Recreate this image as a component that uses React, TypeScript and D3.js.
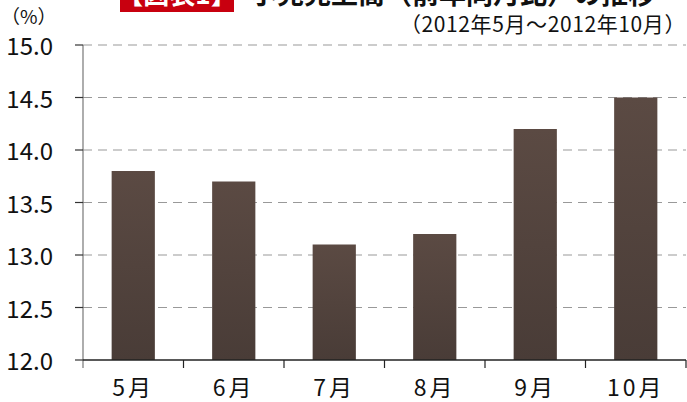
import React from "react";
import * as d3 from "d3";

const categories = ["5月", "6月", "7月", "8月", "9月", "10月"];
const values = [13.8, 13.7, 13.1, 13.2, 14.2, 14.5];
const yTicks = [12.0, 12.5, 13.0, 13.5, 14.0, 14.5, 15.0];

const W = 687;
const H = 402;
const FONT = '"Noto Sans CJK JP", "Noto Sans CJK SC", sans-serif';

export default function App() {
  const x = d3.scaleBand<string>().domain(categories).range([83, 686]).paddingInner(0.57).paddingOuter(0.285);
  const y = d3.scaleLinear().domain([12, 15]).range([360, 45]);
  const bands = d3.scaleBand<string>().domain(categories).range([83, 686]);
  const txt = { fontFamily: FONT } as React.CSSProperties;

  return (
    <svg width={W} height={H} style={{ position: "absolute", left: 0, top: 0, background: "#fff" }}>
      <defs>
        <linearGradient id="barGrad" x1="0" y1="0" x2="0" y2="1">
          <stop offset="0%" stopColor="#5b4a43" />
          <stop offset="100%" stopColor="#493c37" />
        </linearGradient>
      </defs>
      {/* title */}
      <rect x={120} y={-20} width={114} height={32} fill="#c8000f" />
      <text x={177} y={4} textAnchor="middle" style={txt} fontWeight="bold" fontSize={26} fill="#fff">【図表1】</text>
      <text x={250} y={4} style={txt} fontWeight="bold" fontSize={27} fill="#111">小売売上高（前年同月比）の推移</text>
      <text x={1} y={24} style={txt} fontSize={19} fill="#111">（%）</text>
      <text x={686} y={32} textAnchor="end" style={txt} fontSize={21} letterSpacing={0.6} fill="#111">（2012年5月～2012年10月）</text>
      {/* grid */}
      {yTicks.filter(t => t > 12).map(t => (
        <line key={t} x1={83} x2={686} y1={y(t)} y2={y(t)} stroke="#999" strokeWidth={1.2} strokeDasharray="9,6" />
      ))}
      {/* bars */}
      {categories.map((c, i) => (
        <rect key={c} x={x(c)} y={y(values[i])} width={x.bandwidth()} height={y(12) - y(values[i])} fill="url(#barGrad)" />
      ))}
      {/* y axis */}
      <line x1={83} x2={83} y1={y(15)} y2={y(12) + 8} stroke="#777" strokeWidth={1.2} />
      {yTicks.map(t => (
        <g key={t}>
          <line x1={75} x2={83} y1={y(t)} y2={y(t)} stroke="#333" strokeWidth={1.2} />
          <text x={53} y={y(t)} dy="0.42em" textAnchor="end" style={txt} fontSize={24} fill="#111">{t.toFixed(1)}</text>
        </g>
      ))}
      {/* x axis */}
      <line x1={83} x2={686} y1={y(12)} y2={y(12)} stroke="#222" strokeWidth={1.5} />
      {categories.map(c => (
        <line key={c} x1={(bands(c) as number) + bands.bandwidth()} x2={(bands(c) as number) + bands.bandwidth()} y1={y(12)} y2={y(12) + 8} stroke="#222" strokeWidth={1.2} />
      ))}
      {categories.map(c => (
        <text key={c} x={(bands(c) as number) + bands.bandwidth() / 2} y={396} textAnchor="middle" style={txt} fontSize={23} letterSpacing={3} fill="#111">{c}</text>
      ))}
    </svg>
  );
}
